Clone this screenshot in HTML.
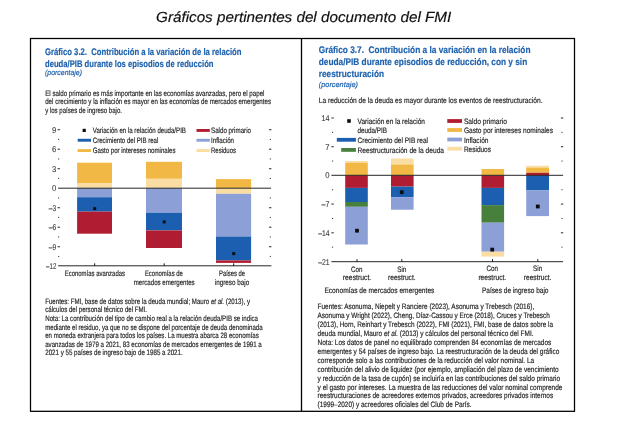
<!DOCTYPE html>
<html lang="es"><head><meta charset="utf-8"><title>Gráficos pertinentes del documento del FMI</title>
<style>
html,body{margin:0;padding:0;background:#fff;}
svg{display:block;font-family:'Liberation Sans', sans-serif;}
text{white-space:pre;}
</style></head>
<body>
<svg text-rendering="geometricPrecision" width="619" height="430" viewBox="0 0 619 430">
<defs><filter id="soft" x="0" y="0" width="619" height="430" filterUnits="userSpaceOnUse"><feGaussianBlur stdDeviation="0.32"/></filter></defs>
<rect width="619" height="430" fill="#ffffff"/>
<g filter="url(#soft)">
<rect x="30.5" y="38.5" width="544" height="372.8" fill="#fff" stroke="#000" stroke-width="1.25"/>
<line x1="301.5" y1="38.0" x2="301.5" y2="411.3" stroke="#000" stroke-width="1.3"/>
<text x="156.1" y="21.9" font-size="14.7" font-weight="normal" font-style="italic" fill="#111" stroke="#111" stroke-width="0.18" textLength="295.1" lengthAdjust="spacingAndGlyphs">Gráficos pertinentes del documento del FMI</text>
<text x="45.0" y="55.4" font-size="9.6" font-weight="bold" font-style="normal" fill="#1F62AE" stroke="#1F62AE" stroke-width="0.18" textLength="196.5" lengthAdjust="spacingAndGlyphs">Gráfico 3.2.  Contribución a la variación de la relación</text>
<text x="45.0" y="66.6" font-size="9.6" font-weight="bold" font-style="normal" fill="#1F62AE" stroke="#1F62AE" stroke-width="0.18" textLength="168.5" lengthAdjust="spacingAndGlyphs">deuda/PIB durante los episodios de reducción</text>
<text x="45.0" y="74.9" font-size="7.6" font-weight="normal" font-style="italic" fill="#1F62AE" stroke="#1F62AE" stroke-width="0.18" textLength="37.0" lengthAdjust="spacingAndGlyphs">(porcentaje)</text>
<text x="45.2" y="95.5" font-size="7.8" font-weight="normal" font-style="normal" fill="#262626" stroke="#262626" stroke-width="0.18" textLength="219.3" lengthAdjust="spacingAndGlyphs">El saldo primario es más importante en las economías avanzadas, pero el papel</text>
<text x="45.2" y="104.2" font-size="7.8" font-weight="normal" font-style="normal" fill="#262626" stroke="#262626" stroke-width="0.18" textLength="225.8" lengthAdjust="spacingAndGlyphs">del crecimiento y la inflación es mayor en las economías de mercados emergentes</text>
<text x="45.2" y="112.9" font-size="7.8" font-weight="normal" font-style="normal" fill="#262626" stroke="#262626" stroke-width="0.18" textLength="76.8" lengthAdjust="spacingAndGlyphs">y los países de ingreso bajo.</text>
<text x="52.0" y="132.7" font-size="8.4" font-weight="normal" font-style="normal" fill="#3a3a3a" stroke="#3a3a3a" stroke-width="0.1" textLength="4.3" lengthAdjust="spacingAndGlyphs">9</text>
<line x1="57.6" y1="129.7" x2="59.9" y2="129.7" stroke="#333" stroke-width="1.1"/>
<line x1="269.1" y1="129.7" x2="271.4" y2="129.7" stroke="#333" stroke-width="1.1"/>
<text x="52.0" y="152.2" font-size="8.4" font-weight="normal" font-style="normal" fill="#3a3a3a" stroke="#3a3a3a" stroke-width="0.1" textLength="4.3" lengthAdjust="spacingAndGlyphs">6</text>
<line x1="57.6" y1="149.2" x2="59.9" y2="149.2" stroke="#333" stroke-width="1.1"/>
<line x1="269.1" y1="149.2" x2="271.4" y2="149.2" stroke="#333" stroke-width="1.1"/>
<text x="52.0" y="171.7" font-size="8.4" font-weight="normal" font-style="normal" fill="#3a3a3a" stroke="#3a3a3a" stroke-width="0.1" textLength="4.3" lengthAdjust="spacingAndGlyphs">3</text>
<line x1="57.6" y1="168.7" x2="59.9" y2="168.7" stroke="#333" stroke-width="1.1"/>
<line x1="269.1" y1="168.7" x2="271.4" y2="168.7" stroke="#333" stroke-width="1.1"/>
<text x="52.0" y="191.2" font-size="8.4" font-weight="normal" font-style="normal" fill="#3a3a3a" stroke="#3a3a3a" stroke-width="0.1" textLength="4.3" lengthAdjust="spacingAndGlyphs">0</text>
<text x="48.8" y="210.7" font-size="8.4" font-weight="normal" font-style="normal" fill="#3a3a3a" stroke="#3a3a3a" stroke-width="0.1" textLength="7.5" lengthAdjust="spacingAndGlyphs">–3</text>
<line x1="57.6" y1="207.7" x2="59.9" y2="207.7" stroke="#333" stroke-width="1.1"/>
<line x1="269.1" y1="207.7" x2="271.4" y2="207.7" stroke="#333" stroke-width="1.1"/>
<text x="48.8" y="230.2" font-size="8.4" font-weight="normal" font-style="normal" fill="#3a3a3a" stroke="#3a3a3a" stroke-width="0.1" textLength="7.5" lengthAdjust="spacingAndGlyphs">–6</text>
<line x1="57.6" y1="227.2" x2="59.9" y2="227.2" stroke="#333" stroke-width="1.1"/>
<line x1="269.1" y1="227.2" x2="271.4" y2="227.2" stroke="#333" stroke-width="1.1"/>
<text x="48.8" y="249.7" font-size="8.4" font-weight="normal" font-style="normal" fill="#3a3a3a" stroke="#3a3a3a" stroke-width="0.1" textLength="7.5" lengthAdjust="spacingAndGlyphs">–9</text>
<line x1="57.6" y1="246.7" x2="59.9" y2="246.7" stroke="#333" stroke-width="1.1"/>
<line x1="269.1" y1="246.7" x2="271.4" y2="246.7" stroke="#333" stroke-width="1.1"/>
<text x="46.1" y="269.2" font-size="8.4" font-weight="normal" font-style="normal" fill="#3a3a3a" stroke="#3a3a3a" stroke-width="0.1" textLength="10.2" lengthAdjust="spacingAndGlyphs">–12</text>
<rect x="58.1" y="138.9" width="1.1" height="1.1" fill="#444"/>
<rect x="269.8" y="138.9" width="1.1" height="1.1" fill="#444"/>
<rect x="58.1" y="158.4" width="1.1" height="1.1" fill="#444"/>
<rect x="269.8" y="158.4" width="1.1" height="1.1" fill="#444"/>
<rect x="58.1" y="177.9" width="1.1" height="1.1" fill="#444"/>
<rect x="269.8" y="177.9" width="1.1" height="1.1" fill="#444"/>
<rect x="58.1" y="197.4" width="1.1" height="1.1" fill="#444"/>
<rect x="269.8" y="197.4" width="1.1" height="1.1" fill="#444"/>
<rect x="58.1" y="216.9" width="1.1" height="1.1" fill="#444"/>
<rect x="269.8" y="216.9" width="1.1" height="1.1" fill="#444"/>
<rect x="58.1" y="236.4" width="1.1" height="1.1" fill="#444"/>
<rect x="269.8" y="236.4" width="1.1" height="1.1" fill="#444"/>
<rect x="58.1" y="255.9" width="1.1" height="1.1" fill="#444"/>
<rect x="269.8" y="255.9" width="1.1" height="1.1" fill="#444"/>
<rect x="77.1" y="162.7" width="34.9" height="20.7" fill="#F2B844"/>
<rect x="77.1" y="183.4" width="34.9" height="4.8" fill="#FADDA2"/>
<rect x="77.1" y="188.2" width="34.9" height="9.0" fill="#8C9FD6"/>
<rect x="77.1" y="197.2" width="34.9" height="14.4" fill="#1B5FB0"/>
<rect x="77.1" y="211.6" width="34.9" height="22.1" fill="#B01E30"/>
<rect x="146.0" y="161.8" width="36.0" height="17.0" fill="#F2B844"/>
<rect x="146.0" y="178.8" width="36.0" height="9.4" fill="#FADDA2"/>
<rect x="146.0" y="188.2" width="36.0" height="24.6" fill="#8C9FD6"/>
<rect x="146.0" y="212.8" width="36.0" height="17.6" fill="#1B5FB0"/>
<rect x="146.0" y="230.4" width="36.0" height="17.6" fill="#B01E30"/>
<rect x="216.0" y="179.1" width="35.1" height="9.1" fill="#F2B844"/>
<rect x="216.0" y="188.2" width="35.1" height="5.6" fill="#FADDA2"/>
<rect x="216.0" y="193.8" width="35.1" height="42.7" fill="#8C9FD6"/>
<rect x="216.0" y="236.5" width="35.1" height="23.9" fill="#1B5FB0"/>
<rect x="216.0" y="260.4" width="35.1" height="2.5" fill="#B01E30"/>
<line x1="58.1" y1="188.2" x2="271.0" y2="188.2" stroke="#262626" stroke-width="1.0"/>
<line x1="58.1" y1="265.8" x2="271.4" y2="265.8" stroke="#262626" stroke-width="1.0"/>
<line x1="94.7" y1="263.3" x2="94.7" y2="266.0" stroke="#1a1a1a" stroke-width="1.0"/>
<line x1="164.2" y1="263.3" x2="164.2" y2="266.0" stroke="#1a1a1a" stroke-width="1.0"/>
<line x1="233.7" y1="263.3" x2="233.7" y2="266.0" stroke="#1a1a1a" stroke-width="1.0"/>
<rect x="93.2" y="207.1" width="3.0" height="3.0" fill="#111"/>
<rect x="162.7" y="220.4" width="3.0" height="3.0" fill="#111"/>
<rect x="232.2" y="252.1" width="3.0" height="3.0" fill="#111"/>
<rect x="82.6" y="128.8" width="3.2" height="3.2" fill="#111"/>
<text x="92.8" y="133.1" font-size="7.8" font-weight="normal" font-style="normal" fill="#262626" stroke="#262626" stroke-width="0.18" textLength="93.1" lengthAdjust="spacingAndGlyphs">Variación en la relación deuda/PIB</text>
<rect x="77.7" y="138.8" width="13.3" height="2.9" fill="#1B5FB0"/>
<text x="92.8" y="143.0" font-size="7.8" font-weight="normal" font-style="normal" fill="#262626" stroke="#262626" stroke-width="0.18" textLength="65.5" lengthAdjust="spacingAndGlyphs">Crecimiento del PIB real</text>
<rect x="77.7" y="149.1" width="13.3" height="2.9" fill="#F2B844"/>
<text x="92.8" y="153.1" font-size="7.8" font-weight="normal" font-style="normal" fill="#262626" stroke="#262626" stroke-width="0.18" textLength="82.7" lengthAdjust="spacingAndGlyphs">Gasto por intereses nominales</text>
<rect x="196.5" y="129.0" width="13.3" height="2.9" fill="#B01E30"/>
<text x="211.0" y="133.1" font-size="7.8" font-weight="normal" font-style="normal" fill="#262626" stroke="#262626" stroke-width="0.18" textLength="40.0" lengthAdjust="spacingAndGlyphs">Saldo primario</text>
<rect x="196.5" y="138.8" width="13.3" height="2.9" fill="#8C9FD6"/>
<text x="211.0" y="143.0" font-size="7.8" font-weight="normal" font-style="normal" fill="#262626" stroke="#262626" stroke-width="0.18" textLength="23.0" lengthAdjust="spacingAndGlyphs">Inflación</text>
<rect x="196.5" y="149.1" width="13.3" height="2.9" fill="#FADDA2"/>
<text x="211.0" y="153.1" font-size="7.8" font-weight="normal" font-style="normal" fill="#262626" stroke="#262626" stroke-width="0.18" textLength="25.0" lengthAdjust="spacingAndGlyphs">Residuos</text>
<text x="64.7" y="275.9" font-size="7.8" font-weight="normal" font-style="normal" fill="#262626" stroke="#262626" stroke-width="0.18" textLength="60.3" lengthAdjust="spacingAndGlyphs">Economías avanzadas</text>
<text x="144.9" y="275.9" font-size="7.8" font-weight="normal" font-style="normal" fill="#262626" stroke="#262626" stroke-width="0.18" textLength="38.0" lengthAdjust="spacingAndGlyphs">Economías de</text>
<text x="133.7" y="284.8" font-size="7.8" font-weight="normal" font-style="normal" fill="#262626" stroke="#262626" stroke-width="0.18" textLength="61.0" lengthAdjust="spacingAndGlyphs">mercados emergentes</text>
<text x="219.0" y="275.9" font-size="7.8" font-weight="normal" font-style="normal" fill="#262626" stroke="#262626" stroke-width="0.18" textLength="26.0" lengthAdjust="spacingAndGlyphs">Países de</text>
<text x="214.8" y="284.8" font-size="7.8" font-weight="normal" font-style="normal" fill="#262626" stroke="#262626" stroke-width="0.18" textLength="34.4" lengthAdjust="spacingAndGlyphs">ingreso bajo</text>
<text x="45.2" y="303.6" font-size="7.8" font-weight="normal" font-style="normal" fill="#262626" stroke="#262626" stroke-width="0.18" textLength="204.8" lengthAdjust="spacingAndGlyphs">Fuentes: FMI, base de datos sobre la deuda mundial; Mauro <tspan font-style="italic">et al.</tspan> (2013), y</text>
<text x="45.2" y="312.2" font-size="7.8" font-weight="normal" font-style="normal" fill="#262626" stroke="#262626" stroke-width="0.18" textLength="101.8" lengthAdjust="spacingAndGlyphs">cálculos del personal técnico del FMI.</text>
<text x="45.2" y="320.8" font-size="7.8" font-weight="normal" font-style="normal" fill="#262626" stroke="#262626" stroke-width="0.18" textLength="212.8" lengthAdjust="spacingAndGlyphs">Nota: La contribución del tipo de cambio real a la relación deuda/PIB se indica</text>
<text x="45.2" y="329.5" font-size="7.8" font-weight="normal" font-style="normal" fill="#262626" stroke="#262626" stroke-width="0.18" textLength="217.4" lengthAdjust="spacingAndGlyphs">mediante el residuo, ya que no se dispone del porcentaje de deuda denominada</text>
<text x="45.2" y="338.1" font-size="7.8" font-weight="normal" font-style="normal" fill="#262626" stroke="#262626" stroke-width="0.18" textLength="213.6" lengthAdjust="spacingAndGlyphs">en moneda extranjera para todos los países. La muestra abarca 28 economías</text>
<text x="45.2" y="346.7" font-size="7.8" font-weight="normal" font-style="normal" fill="#262626" stroke="#262626" stroke-width="0.18" textLength="216.6" lengthAdjust="spacingAndGlyphs">avanzadas de 1979 a 2021, 83 economías de mercados emergentes de 1991 a</text>
<text x="45.2" y="355.3" font-size="7.8" font-weight="normal" font-style="normal" fill="#262626" stroke="#262626" stroke-width="0.18" textLength="137.5" lengthAdjust="spacingAndGlyphs">2021 y 55 países de ingreso bajo de 1985 a 2021.</text>
<text x="318.8" y="53.2" font-size="9.6" font-weight="bold" font-style="normal" fill="#1F62AE" stroke="#1F62AE" stroke-width="0.18" textLength="211.7" lengthAdjust="spacingAndGlyphs">Gráfico 3.7.  Contribución a la variación en la relación</text>
<text x="318.8" y="64.9" font-size="9.6" font-weight="bold" font-style="normal" fill="#1F62AE" stroke="#1F62AE" stroke-width="0.18" textLength="208.4" lengthAdjust="spacingAndGlyphs">deuda/PIB durante episodios de reducción, con y sin</text>
<text x="318.8" y="77.2" font-size="9.6" font-weight="bold" font-style="normal" fill="#1F62AE" stroke="#1F62AE" stroke-width="0.18" textLength="65.2" lengthAdjust="spacingAndGlyphs">reestructuración</text>
<text x="318.8" y="87.0" font-size="7.6" font-weight="normal" font-style="italic" fill="#1F62AE" stroke="#1F62AE" stroke-width="0.18" textLength="39.2" lengthAdjust="spacingAndGlyphs">(porcentaje)</text>
<text x="318.8" y="102.6" font-size="7.8" font-weight="normal" font-style="normal" fill="#262626" stroke="#262626" stroke-width="0.18" textLength="223.7" lengthAdjust="spacingAndGlyphs">La reducción de la deuda es mayor durante los eventos de reestructuración.</text>
<text x="321.6" y="121.0" font-size="8.4" font-weight="normal" font-style="normal" fill="#3a3a3a" stroke="#3a3a3a" stroke-width="0.1" textLength="8.0" lengthAdjust="spacingAndGlyphs">14</text>
<line x1="331.4" y1="118.0" x2="333.7" y2="118.0" stroke="#333" stroke-width="1.1"/>
<line x1="560.9" y1="118.0" x2="563.2" y2="118.0" stroke="#333" stroke-width="1.1"/>
<text x="325.3" y="149.7" font-size="8.4" font-weight="normal" font-style="normal" fill="#3a3a3a" stroke="#3a3a3a" stroke-width="0.1" textLength="4.3" lengthAdjust="spacingAndGlyphs">7</text>
<line x1="331.4" y1="146.7" x2="333.7" y2="146.7" stroke="#333" stroke-width="1.1"/>
<line x1="560.9" y1="146.7" x2="563.2" y2="146.7" stroke="#333" stroke-width="1.1"/>
<text x="325.3" y="178.4" font-size="8.4" font-weight="normal" font-style="normal" fill="#3a3a3a" stroke="#3a3a3a" stroke-width="0.1" textLength="4.3" lengthAdjust="spacingAndGlyphs">0</text>
<text x="321.6" y="207.1" font-size="8.4" font-weight="normal" font-style="normal" fill="#3a3a3a" stroke="#3a3a3a" stroke-width="0.1" textLength="8.0" lengthAdjust="spacingAndGlyphs">–7</text>
<line x1="331.4" y1="204.1" x2="333.7" y2="204.1" stroke="#333" stroke-width="1.1"/>
<line x1="560.9" y1="204.1" x2="563.2" y2="204.1" stroke="#333" stroke-width="1.1"/>
<text x="318.2" y="235.8" font-size="8.4" font-weight="normal" font-style="normal" fill="#3a3a3a" stroke="#3a3a3a" stroke-width="0.1" textLength="11.4" lengthAdjust="spacingAndGlyphs">–14</text>
<line x1="331.4" y1="232.8" x2="333.7" y2="232.8" stroke="#333" stroke-width="1.1"/>
<line x1="560.9" y1="232.8" x2="563.2" y2="232.8" stroke="#333" stroke-width="1.1"/>
<text x="318.2" y="264.5" font-size="8.4" font-weight="normal" font-style="normal" fill="#3a3a3a" stroke="#3a3a3a" stroke-width="0.1" textLength="11.4" lengthAdjust="spacingAndGlyphs">–21</text>
<rect x="332.0" y="131.8" width="1.1" height="1.1" fill="#444"/>
<rect x="561.5" y="131.8" width="1.1" height="1.1" fill="#444"/>
<rect x="332.0" y="160.5" width="1.1" height="1.1" fill="#444"/>
<rect x="561.5" y="160.5" width="1.1" height="1.1" fill="#444"/>
<rect x="332.0" y="189.2" width="1.1" height="1.1" fill="#444"/>
<rect x="561.5" y="189.2" width="1.1" height="1.1" fill="#444"/>
<rect x="332.0" y="217.9" width="1.1" height="1.1" fill="#444"/>
<rect x="561.5" y="217.9" width="1.1" height="1.1" fill="#444"/>
<rect x="332.0" y="246.6" width="1.1" height="1.1" fill="#444"/>
<rect x="561.5" y="246.6" width="1.1" height="1.1" fill="#444"/>
<rect x="345.2" y="161.0" width="22.6" height="1.8" fill="#FADDA2"/>
<rect x="345.2" y="162.8" width="22.6" height="12.6" fill="#F2B844"/>
<rect x="345.2" y="175.4" width="22.6" height="12.5" fill="#B01E30"/>
<rect x="345.2" y="187.9" width="22.6" height="14.1" fill="#1B5FB0"/>
<rect x="345.2" y="202.0" width="22.6" height="4.8" fill="#467F3C"/>
<rect x="345.2" y="206.8" width="22.6" height="37.7" fill="#8C9FD6"/>
<rect x="391.0" y="158.5" width="22.6" height="6.0" fill="#FADDA2"/>
<rect x="391.0" y="164.5" width="22.6" height="10.9" fill="#F2B844"/>
<rect x="391.0" y="175.4" width="22.6" height="11.2" fill="#B01E30"/>
<rect x="391.0" y="186.6" width="22.6" height="10.6" fill="#1B5FB0"/>
<rect x="391.0" y="197.2" width="22.6" height="12.5" fill="#8C9FD6"/>
<rect x="481.5" y="169.0" width="22.6" height="6.4" fill="#F2B844"/>
<rect x="481.5" y="175.4" width="22.6" height="12.5" fill="#B01E30"/>
<rect x="481.5" y="187.9" width="22.6" height="17.2" fill="#1B5FB0"/>
<rect x="481.5" y="205.1" width="22.6" height="17.6" fill="#467F3C"/>
<rect x="481.5" y="222.7" width="22.6" height="29.0" fill="#8C9FD6"/>
<rect x="481.5" y="251.7" width="22.6" height="4.9" fill="#FADDA2"/>
<rect x="526.2" y="165.8" width="22.8" height="1.8" fill="#FADDA2"/>
<rect x="526.2" y="167.6" width="22.8" height="5.2" fill="#F2B844"/>
<rect x="526.2" y="172.8" width="22.8" height="3.0" fill="#B01E30"/>
<rect x="526.2" y="175.8" width="22.8" height="14.6" fill="#1B5FB0"/>
<rect x="526.2" y="190.4" width="22.8" height="25.7" fill="#8C9FD6"/>
<line x1="331.4" y1="175.3" x2="563.1" y2="175.3" stroke="#262626" stroke-width="1.0"/>
<line x1="331.4" y1="261.7" x2="563.1" y2="261.7" stroke="#262626" stroke-width="1.0"/>
<line x1="357.0" y1="259.2" x2="357.0" y2="261.8" stroke="#1a1a1a" stroke-width="1.0"/>
<line x1="401.8" y1="259.2" x2="401.8" y2="261.8" stroke="#1a1a1a" stroke-width="1.0"/>
<line x1="492.5" y1="259.2" x2="492.5" y2="261.8" stroke="#1a1a1a" stroke-width="1.0"/>
<line x1="537.8" y1="259.2" x2="537.8" y2="261.8" stroke="#1a1a1a" stroke-width="1.0"/>
<rect x="355.1" y="228.8" width="3.8" height="3.8" fill="#111"/>
<rect x="399.9" y="190.3" width="3.8" height="3.8" fill="#111"/>
<rect x="490.3" y="247.7" width="3.8" height="3.8" fill="#111"/>
<rect x="535.9" y="204.6" width="3.8" height="3.8" fill="#111"/>
<rect x="347.2" y="119.2" width="3.6" height="3.6" fill="#111"/>
<text x="357.5" y="124.1" font-size="7.8" font-weight="normal" font-style="normal" fill="#262626" stroke="#262626" stroke-width="0.18" textLength="67.5" lengthAdjust="spacingAndGlyphs">Variación en la relación</text>
<text x="357.5" y="133.4" font-size="7.8" font-weight="normal" font-style="normal" fill="#262626" stroke="#262626" stroke-width="0.18" textLength="29.5" lengthAdjust="spacingAndGlyphs">deuda/PIB</text>
<rect x="336.8" y="137.9" width="19.1" height="3.8" fill="#1B5FB0"/>
<text x="357.5" y="143.0" font-size="7.8" font-weight="normal" font-style="normal" fill="#262626" stroke="#262626" stroke-width="0.18" textLength="70.5" lengthAdjust="spacingAndGlyphs">Crecimiento del PIB real</text>
<rect x="341.2" y="148.0" width="14.7" height="3.8" fill="#467F3C"/>
<text x="357.5" y="152.9" font-size="7.8" font-weight="normal" font-style="normal" fill="#262626" stroke="#262626" stroke-width="0.18" textLength="86.5" lengthAdjust="spacingAndGlyphs">Reestructuración de la deuda</text>
<rect x="447.3" y="119.1" width="14.7" height="3.8" fill="#B01E30"/>
<text x="463.9" y="124.4" font-size="7.8" font-weight="normal" font-style="normal" fill="#262626" stroke="#262626" stroke-width="0.18" textLength="43.1" lengthAdjust="spacingAndGlyphs">Saldo primario</text>
<rect x="447.3" y="128.1" width="14.7" height="3.8" fill="#F2B844"/>
<text x="463.9" y="132.9" font-size="7.8" font-weight="normal" font-style="normal" fill="#262626" stroke="#262626" stroke-width="0.18" textLength="89.1" lengthAdjust="spacingAndGlyphs">Gasto por intereses nominales</text>
<rect x="447.3" y="137.6" width="14.7" height="3.8" fill="#8C9FD6"/>
<text x="463.9" y="142.5" font-size="7.8" font-weight="normal" font-style="normal" fill="#262626" stroke="#262626" stroke-width="0.18" textLength="24.6" lengthAdjust="spacingAndGlyphs">Inflación</text>
<rect x="447.3" y="146.8" width="14.7" height="3.8" fill="#FADDA2"/>
<text x="463.9" y="152.1" font-size="7.8" font-weight="normal" font-style="normal" fill="#262626" stroke="#262626" stroke-width="0.18" textLength="27.1" lengthAdjust="spacingAndGlyphs">Residuos</text>
<text x="351.1" y="271.6" font-size="7.8" font-weight="normal" font-style="normal" fill="#262626" stroke="#262626" stroke-width="0.18" textLength="11.4" lengthAdjust="spacingAndGlyphs">Con</text>
<text x="342.8" y="280.0" font-size="7.8" font-weight="normal" font-style="normal" fill="#262626" stroke="#262626" stroke-width="0.18" textLength="28.4" lengthAdjust="spacingAndGlyphs">reestruct.</text>
<text x="397.3" y="271.6" font-size="7.8" font-weight="normal" font-style="normal" fill="#262626" stroke="#262626" stroke-width="0.18" textLength="9.0" lengthAdjust="spacingAndGlyphs">Sin</text>
<text x="388.0" y="280.0" font-size="7.8" font-weight="normal" font-style="normal" fill="#262626" stroke="#262626" stroke-width="0.18" textLength="27.6" lengthAdjust="spacingAndGlyphs">reestruct.</text>
<text x="486.6" y="270.9" font-size="7.8" font-weight="normal" font-style="normal" fill="#262626" stroke="#262626" stroke-width="0.18" textLength="11.4" lengthAdjust="spacingAndGlyphs">Con</text>
<text x="478.4" y="280.0" font-size="7.8" font-weight="normal" font-style="normal" fill="#262626" stroke="#262626" stroke-width="0.18" textLength="27.8" lengthAdjust="spacingAndGlyphs">reestruct.</text>
<text x="533.1" y="270.9" font-size="7.8" font-weight="normal" font-style="normal" fill="#262626" stroke="#262626" stroke-width="0.18" textLength="9.0" lengthAdjust="spacingAndGlyphs">Sin</text>
<text x="523.8" y="280.0" font-size="7.8" font-weight="normal" font-style="normal" fill="#262626" stroke="#262626" stroke-width="0.18" textLength="27.6" lengthAdjust="spacingAndGlyphs">reestruct.</text>
<text x="324.4" y="292.9" font-size="7.8" font-weight="normal" font-style="normal" fill="#262626" stroke="#262626" stroke-width="0.18" textLength="110.0" lengthAdjust="spacingAndGlyphs">Economías de mercados emergentes</text>
<text x="482.0" y="292.7" font-size="7.8" font-weight="normal" font-style="normal" fill="#262626" stroke="#262626" stroke-width="0.18" textLength="66.5" lengthAdjust="spacingAndGlyphs">Países de ingreso bajo</text>
<text x="317.6" y="309.0" font-size="7.8" font-weight="normal" font-style="normal" fill="#262626" stroke="#262626" stroke-width="0.18" textLength="216.6" lengthAdjust="spacingAndGlyphs">Fuentes: Asonuma, Niepelt y Ranciere (2023), Asonuma y Trebesch (2016),</text>
<text x="317.6" y="317.9" font-size="7.8" font-weight="normal" font-style="normal" fill="#262626" stroke="#262626" stroke-width="0.18" textLength="232.2" lengthAdjust="spacingAndGlyphs">Asonuma y Wright (2022), Cheng, Díaz-Cassou y Erce (2018), Cruces y Trebesch</text>
<text x="317.6" y="326.9" font-size="7.8" font-weight="normal" font-style="normal" fill="#262626" stroke="#262626" stroke-width="0.18" textLength="235.4" lengthAdjust="spacingAndGlyphs">(2013), Horn, Reinhart y Trebesch (2022), FMI (2021), FMI, base de datos sobre la</text>
<text x="317.6" y="335.8" font-size="7.8" font-weight="normal" font-style="normal" fill="#262626" stroke="#262626" stroke-width="0.18" textLength="215.9" lengthAdjust="spacingAndGlyphs">deuda mundial, Mauro <tspan font-style="italic">et al.</tspan> (2013) y cálculos del personal técnico del FMI.</text>
<text x="317.6" y="344.8" font-size="7.8" font-weight="normal" font-style="normal" fill="#262626" stroke="#262626" stroke-width="0.18" textLength="233.7" lengthAdjust="spacingAndGlyphs">Nota: Los datos de panel no equilibrado comprenden 84 economías de mercados</text>
<text x="317.6" y="353.7" font-size="7.8" font-weight="normal" font-style="normal" fill="#262626" stroke="#262626" stroke-width="0.18" textLength="241.7" lengthAdjust="spacingAndGlyphs">emergentes y 54 países de ingreso bajo. La reestructuración de la deuda del gráfico</text>
<text x="317.6" y="362.6" font-size="7.8" font-weight="normal" font-style="normal" fill="#262626" stroke="#262626" stroke-width="0.18" textLength="216.6" lengthAdjust="spacingAndGlyphs">corresponde solo a las contribuciones de la reducción del valor nominal. La</text>
<text x="317.6" y="371.6" font-size="7.8" font-weight="normal" font-style="normal" fill="#262626" stroke="#262626" stroke-width="0.18" textLength="241.0" lengthAdjust="spacingAndGlyphs">contribución del alivio de liquidez (por ejemplo, ampliación del plazo de vencimiento</text>
<text x="317.6" y="380.5" font-size="7.8" font-weight="normal" font-style="normal" fill="#262626" stroke="#262626" stroke-width="0.18" textLength="242.5" lengthAdjust="spacingAndGlyphs">y reducción de la tasa de cupón) se incluiría en las contribuciones del saldo primario</text>
<text x="317.6" y="389.5" font-size="7.8" font-weight="normal" font-style="normal" fill="#262626" stroke="#262626" stroke-width="0.18" textLength="244.8" lengthAdjust="spacingAndGlyphs">y el gasto por intereses. La muestra de las reducciones del valor nominal comprende</text>
<text x="317.6" y="398.4" font-size="7.8" font-weight="normal" font-style="normal" fill="#262626" stroke="#262626" stroke-width="0.18" textLength="235.6" lengthAdjust="spacingAndGlyphs">reestructuraciones de acreedores externos privados, acreedores privados internos</text>
<text x="317.6" y="407.3" font-size="7.8" font-weight="normal" font-style="normal" fill="#262626" stroke="#262626" stroke-width="0.18" textLength="153.9" lengthAdjust="spacingAndGlyphs">(1999–2020) y acreedores oficiales del Club de París.</text>
</g>
</svg>
</body></html>
